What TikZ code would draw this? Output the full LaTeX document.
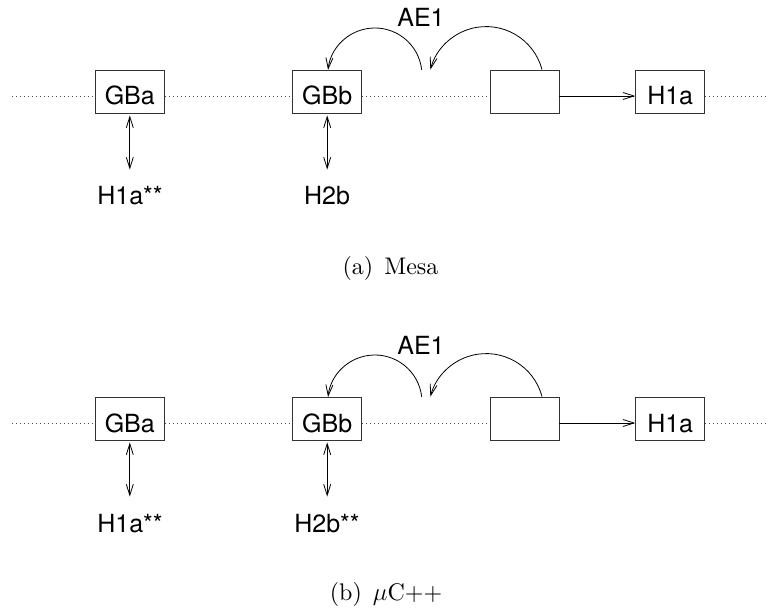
\documentclass[tikz,border=0pt]{standalone}
\usepackage{fontspec}
\setsansfont{TeX Gyre Heros}
\newfontfamily\capfont{lmroman10-regular.otf}
\usetikzlibrary{arrows.meta,calc}

% One row of the chain: boxes on a dotted line, the AE1 hops and the two links below
\newcommand\chainrow[2]{%
  % #1: name suffix, #2: text under GBb
  \coordinate (L#1) at (12,-96);
  \coordinate (R#1) at (769,-96);
  \node[box] (gba#1) at (129.8,-91.5) {GBa};
  \node[box] (gbb#1) at (327.2,-91.5) {GBb};
  \node[box] (emp#1) at (524.5,-91.5) {};
  \node[box] (hia#1) at (670.2,-91.5) {H1a};
  \node[lbl] (ha#1) at (130,-205) {H1a**};
  \node[lbl] (hb#1) at (327,-205) {#2};
  \node[lbl] (ae#1) at (421,-27) {AE1};
  % dotted chain
  \draw[dotline] (L#1) -- (L#1 -| gba#1.west);
  \draw[dotline] (L#1 -| gba#1.east) -- (L#1 -| gbb#1.west);
  \draw[dotline] (L#1 -| gbb#1.east) -- (L#1 -| emp#1.west);
  \draw[dotline] (L#1 -| hia#1.east) -- (R#1);
  % links
  \draw[conn] (L#1 -| emp#1.east) -- (L#1 -| hia#1.west);
  \draw[biconn] ([yshift=-2pt]gba#1.south) -- ([yshift=17pt]gba#1.south |- ha#1.north);
  \draw[biconn] ([yshift=-2pt]gbb#1.south) -- ([yshift=17pt]gbb#1.south |- hb#1.north);
  % AE1 hops
  \coordinate (st#1) at ($(emp#1.north west)!0.75!(emp#1.north east)$);
  \coordinate (gap#1) at (421.7,-70);
  \draw[conn] (st#1) arc[start angle=14.8, end angle=165.2, radius=57.7];
  \draw[conn] (gap#1) arc[start angle=6.2, end angle=173.8, radius=47.1];
}

\begin{document}
\begin{tikzpicture}[x=1pt,y=1pt,
  box/.style={draw=black!80, line width=0.9pt, inner sep=0pt,
    minimum width=69pt, text height=35pt, text depth=8pt,
    font=\sffamily\fontsize{25}{30}\selectfont},
  lbl/.style={inner sep=0pt, anchor=base, font=\sffamily\fontsize{25}{30}\selectfont},
  dotline/.style={black!70, line width=0.9pt, dash pattern=on 0.9pt off 3.1pt},
  conn/.style={line width=0.8pt, -{Straight Barb[length=11pt,width=7pt]}},
  biconn/.style={line width=0.8pt,
    {Straight Barb[length=11pt,width=7pt]}-{Straight Barb[length=11pt,width=7pt]}},
  captxt/.style={inner sep=0pt, anchor=base, font=\capfont\fontsize{24}{28}\selectfont}]
\useasboundingbox (0,0) rectangle (771,-612);

\chainrow{a}{H2b}
\node[captxt] (capa) at (390.5,-275) {(a)\hspace{11pt}Mesa};

\begin{scope}[yshift=-327pt]
\chainrow{b}{H2b**}
\end{scope}
\node[captxt] (capb) at (386,-600) {(b)\hspace{11pt}$\mu$C++};
\end{tikzpicture}
\end{document}
